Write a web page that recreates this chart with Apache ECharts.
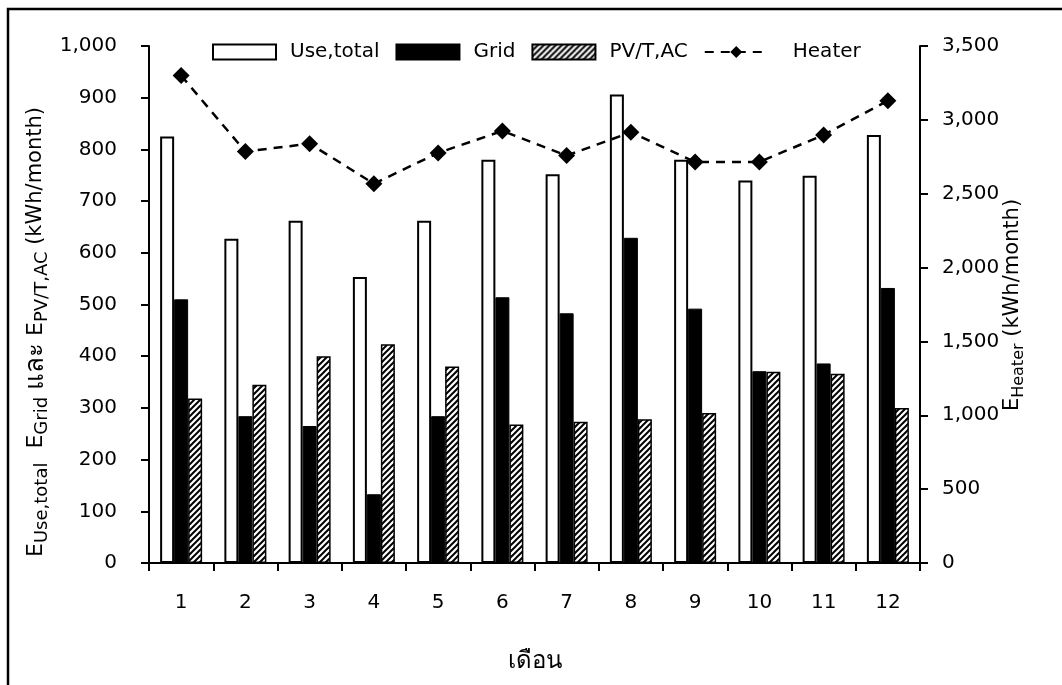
<!DOCTYPE html>
<html>
<head>
<meta charset="utf-8">
<script src="https://cdn.jsdelivr.net/npm/echarts@6/dist/echarts.min.js"></script>
<style>
  html, body { margin: 0; padding: 0; background: #fff; }
  #chart { width: 1062px; height: 685px; }
</style>
</head>
<body>
<div id="chart"></div>
<script>
// Monthly energy balance (kWh/month)
const months = ['1', '2', '3', '4', '5', '6', '7', '8', '9', '10', '11', '12'];
const useTotal = [825, 627, 662, 553, 662, 780, 752, 906, 780, 740, 749, 828];
const gridEnergy = [510, 284, 265, 133, 284, 514, 483, 629, 492, 371, 386, 532];
const pvtAc = [318, 345, 400, 423, 380, 268, 273, 278, 290, 370, 366, 300];
const heater = [3300, 2785, 2839, 2568, 2776, 2925, 2758, 2916, 2715, 2715, 2898, 3130];
const seriesNames = ['Use,total', 'Grid', 'PV/T,AC', 'Heater'];

const FONT = '"DejaVu Sans", "Noto Sans", sans-serif';

// diagonal hatch fill for the PV/T,AC bars
function hatchPattern() {
  const c = document.createElement('canvas');
  c.width = 6; c.height = 6;
  const g = c.getContext('2d');
  g.fillStyle = '#fff';
  g.fillRect(0, 0, 6, 6);
  g.strokeStyle = '#000';
  g.lineWidth = 2;
  g.beginPath();
  g.moveTo(0, 6); g.lineTo(6, 0);
  g.moveTo(-3, 3); g.lineTo(3, -3);
  g.moveTo(3, 9); g.lineTo(9, 3);
  g.stroke();
  return c;
}

const fmt = v => Number(v).toLocaleString('en-US');

const axisLine = { show: true, lineStyle: { color: '#000', width: 2 } };
const axisTick = { show: true, length: 8, lineStyle: { color: '#000', width: 2 } };

const titleRich = {
  m: { fontFamily: FONT, fontSize: 22, fill: '#000' },
  t: { fontFamily: FONT, fontSize: 26, fill: '#000' },
  u: { fontFamily: FONT, fontSize: 21, fill: '#000' },
  s: { fontFamily: FONT, fontSize: 18, fill: '#000', padding: [12, 0, 0, 0] }
};

const chart = echarts.init(document.getElementById('chart'), null, { renderer: 'canvas' });

chart.setOption({
  backgroundColor: '#fff',
  animation: false,
  textStyle: { fontFamily: FONT, color: '#000' },
  grid: { left: 149, right: 142, top: 46, bottom: 122, containLabel: false },
  legend: {
    left: 207,
    top: 37,
    itemWidth: 63,
    itemHeight: 15,
    itemGap: 16,
    textStyle: { fontFamily: FONT, fontSize: 20, color: '#000', padding: [0, 0, 0, 9] },
    data: [
      { name: seriesNames[0], icon: 'rect' },
      { name: seriesNames[1], icon: 'rect' },
      { name: seriesNames[2], icon: 'rect' },
      { name: seriesNames[3], textStyle: { padding: [0, 0, 0, 20] } }
    ]
  },
  xAxis: {
    type: 'category',
    data: months,
    boundaryGap: true,
    axisLine: axisLine,
    axisTick: Object.assign({ alignWithLabel: false }, axisTick),
    axisLabel: { fontFamily: FONT, fontSize: 20, color: '#000', margin: 30 },
    splitLine: { show: false }
  },
  yAxis: [
    {
      type: 'value',
      min: 0, max: 1000, interval: 100,
      position: 'left',
      axisLine: axisLine,
      axisTick: axisTick,
      axisLabel: { fontFamily: FONT, fontSize: 20, color: '#000', margin: 32, formatter: fmt },
      splitLine: { show: false }
    },
    {
      type: 'value',
      min: 0, max: 3500, interval: 500,
      position: 'right',
      axisLine: axisLine,
      axisTick: axisTick,
      axisLabel: { fontFamily: FONT, fontSize: 20, color: '#000', margin: 22, formatter: fmt },
      splitLine: { show: false }
    }
  ],
  graphic: [
    {
      type: 'rect',
      silent: true,
      shape: { x: 8, y: 9, width: 1100, height: 700 },
      style: { fill: 'none', stroke: '#000', lineWidth: 2.5 }
    },
    {
      type: 'text',
      x: 36, y: 332,
      rotation: Math.PI / 2,
      style: {
        text: '{m|E}{s|Use,total}{m|  E}{s|Grid}{m| }{t|และ}{m| E}{s|PV/T,AC}{u| (kWh/month)}',
        align: 'center',
        verticalAlign: 'middle',
        fill: '#000',
        rich: titleRich
      }
    },
    {
      type: 'text',
      x: 1013, y: 305,
      rotation: Math.PI / 2,
      style: {
        text: '{m|E}{s|Heater}{m| (kWh/month)}',
        align: 'center',
        verticalAlign: 'middle',
        fill: '#000',
        rich: {
          m: { fontFamily: FONT, fontSize: 21, fill: '#000' },
          s: { fontFamily: FONT, fontSize: 16, fill: '#000', padding: [11, 0, 0, 0] }
        }
      }
    },
    {
      type: 'text',
      x: 535, y: 662,
      style: {
        text: 'เดือน',
        align: 'center',
        verticalAlign: 'middle',
        fill: '#000',
        font: '24px ' + FONT
      }
    }
  ],
  series: [
    {
      name: seriesNames[0],
      type: 'bar',
      data: useTotal,
      barWidth: 14,
      barGap: '0%',
      itemStyle: { color: '#fff', borderColor: '#000', borderWidth: 2 }
    },
    {
      name: seriesNames[1],
      type: 'bar',
      data: gridEnergy,
      barWidth: 14,
      barGap: '0%',
      itemStyle: { color: '#000', borderColor: '#000', borderWidth: 1 }
    },
    {
      name: seriesNames[2],
      type: 'bar',
      data: pvtAc,
      barWidth: 14,
      barGap: '0%',
      itemStyle: { color: { image: hatchPattern(), repeat: 'repeat' }, borderColor: '#000', borderWidth: 1.5 }
    },
    {
      name: seriesNames[3],
      type: 'line',
      yAxisIndex: 1,
      data: heater,
      symbol: 'diamond',
      symbolSize: 17,
      lineStyle: { color: '#000', width: 2.5, type: [9, 7] },
      itemStyle: { color: '#000' },
      z: 5
    }
  ]
});
</script>
</body>
</html>
